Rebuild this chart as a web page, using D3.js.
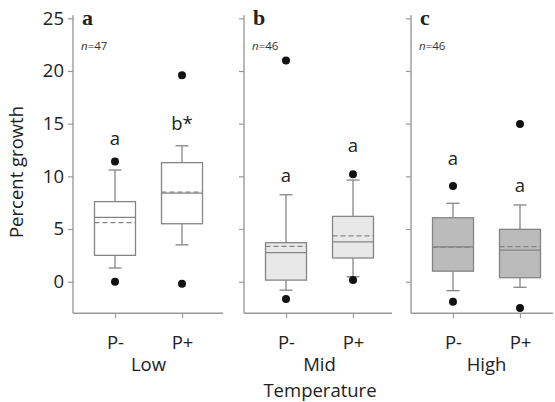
<!DOCTYPE html>
<html><head><meta charset="utf-8">
<script src="https://cdn.jsdelivr.net/npm/d3@7"></script>
<style>body{margin:0;background:#fff}svg{display:block}</style>
</head><body>
<svg id="c" width="555" height="402"></svg>
<script>
const panels = ["a", "b", "c"];
const groups = ["Low", "Mid", "High"];
const sampleSizes = ["n=47", "n=46", "n=46"];
const treatments = ["P-", "P+"];
// per panel, per treatment: [lowWhisker, q1, median, q3, highWhisker]
const boxStats = [
  [[1.3, 2.5, 6.1, 7.6, 10.6], [3.5, 5.5, 8.4, 11.3, 12.9]],
  [[-0.8, 0.15, 2.75, 3.7, 8.25], [0.47, 2.25, 3.77, 6.2, 9.65]],
  [[-0.85, 1.0, 3.3, 6.07, 7.44], [-0.53, 0.38, 3.0, 4.97, 7.28]]
];
const means = [[5.6, 8.5], [3.35, 4.34], [3.27, 3.32]];
const outliers = [
  [[11.4, 0.0], [19.6, -0.2]],
  [[21.0, -1.64], [10.2, 0.16]],
  [[9.08, -1.9], [14.96, -2.5]]
];
const sigLabels = [["a", "b*"], ["a", "a"], ["a", "a"]];
const sigLabelY = [[13.0, 14.4], [9.5, 12.3], [11.1, 8.5]];
const yTicks = [0, 5, 10, 15, 20, 25];
const yDomain = [-3, 25];

const svg = d3.select("#c");
const fills = ["#ffffff", "#e8e8e8", "#bbbbbb"];
const panelX = [[73, 223], [244, 392], [411, 553]];
const y = d3.scaleLinear().domain(yDomain).range([313.3, 18.3]);
const axisColor = "#9a9a9a";
const boxStroke = "#858585";
const font = "'Open Sans', sans-serif";
const fs = 18.5;
const txt = "#222";

panels.forEach((p, i) => {
  const [x0, x1] = panelX[i];
  const g = svg.append("g");
  const x = d3.scalePoint().domain(treatments).range([x0 + 42, x0 + 109]);

  // y axis
  const ya = d3.axisLeft(y).tickValues(yTicks).tickSize(5).tickSizeOuter(0)
    .tickFormat(i === 0 ? d3.format("d") : () => "");
  const yg = g.append("g").attr("transform", `translate(${x0},0)`).call(ya);
  yg.select(".domain").remove();
  yg.selectAll("line").attr("stroke", axisColor).attr("stroke-width", 1.2);
  yg.selectAll("text").attr("font-family", font).attr("font-size", fs).attr("fill", txt).attr("dx", -1);
  g.append("line").attr("x1", x0).attr("x2", x0).attr("y1", y(25) - 3).attr("y2", y(yDomain[0]))
    .attr("stroke", axisColor).attr("stroke-width", 1.4);

  // x axis
  const xa = d3.axisBottom(x).tickSize(5).tickSizeOuter(0).tickPadding(18);
  const xg = g.append("g").attr("transform", `translate(0,${y(yDomain[0])})`).call(xa);
  xg.select(".domain").remove();
  xg.selectAll("line").attr("stroke", axisColor).attr("stroke-width", 1.2);
  xg.selectAll("text").attr("font-family", font).attr("font-size", fs).attr("fill", txt);
  g.append("line").attr("x1", x0).attr("x2", x1).attr("y1", y(yDomain[0])).attr("y2", y(yDomain[0]))
    .attr("stroke", axisColor).attr("stroke-width", 1.4);

  // group label
  g.append("text").attr("x", (x("P-") + x("P+")) / 2).attr("y", 371)
    .attr("text-anchor", "middle").attr("font-family", font).attr("font-size", fs).attr("fill", txt)
    .text(groups[i]);

  // panel letter
  g.append("text").attr("x", x0 + 9).attr("y", 25)
    .attr("font-family", "'Liberation Serif', serif").attr("font-weight", "bold").attr("font-size", 22).attr("fill", "#222")
    .text(p);
  const nt = g.append("text").attr("x", x0 + 8).attr("y", 50)
    .attr("font-family", font).attr("font-size", 11.5).attr("fill", "#333");
  const parts = sampleSizes[i].split("=");
  nt.append("tspan").attr("font-style", "italic").text(parts[0]);
  nt.append("tspan").text("=" + parts[1]);

  const bw = 41, cw = 13;
  treatments.forEach((t, j) => {
    const [lo, q1, med, q3, hi] = boxStats[i][j];
    const cx = x(t);
    const bg = g.append("g").attr("stroke", boxStroke).attr("stroke-width", 1.3);
    bg.append("line").attr("x1", cx).attr("x2", cx).attr("y1", y(q3)).attr("y2", y(hi));
    bg.append("line").attr("x1", cx).attr("x2", cx).attr("y1", y(q1)).attr("y2", y(lo));
    bg.append("line").attr("x1", cx - cw / 2).attr("x2", cx + cw / 2).attr("y1", y(hi)).attr("y2", y(hi));
    bg.append("line").attr("x1", cx - cw / 2).attr("x2", cx + cw / 2).attr("y1", y(lo)).attr("y2", y(lo));
    bg.append("rect").attr("x", cx - bw / 2).attr("width", bw).attr("y", y(q3)).attr("height", y(q1) - y(q3))
      .attr("fill", fills[i]);
    bg.append("line").attr("x1", cx - bw / 2).attr("x2", cx + bw / 2).attr("y1", y(med)).attr("y2", y(med));
    bg.append("line").attr("x1", cx - bw / 2).attr("x2", cx + bw / 2).attr("y1", y(means[i][j])).attr("y2", y(means[i][j]))
      .attr("stroke-dasharray", "5,3");
    g.selectAll(null).data(outliers[i][j]).enter().append("circle")
      .attr("cx", cx).attr("cy", d => y(d)).attr("r", 4).attr("fill", "#111");
    g.append("text").attr("x", cx).attr("y", y(sigLabelY[i][j])).attr("text-anchor", "middle")
      .attr("font-family", font).attr("font-size", fs).attr("fill", txt).text(sigLabels[i][j]);
  });
});

svg.append("text").attr("transform", "translate(23,172) rotate(-90)").attr("text-anchor", "middle")
  .attr("font-family", font).attr("font-size", fs).attr("fill", txt).text("Percent growth");
svg.append("text").attr("x", 320).attr("y", 397).attr("text-anchor", "middle")
  .attr("font-family", font).attr("font-size", fs).attr("fill", txt).text("Temperature");
</script>
</body></html>
